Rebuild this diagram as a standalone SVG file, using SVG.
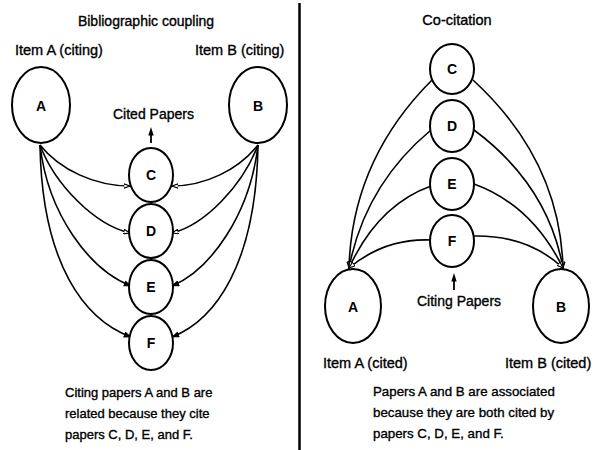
<svg xmlns="http://www.w3.org/2000/svg" width="598" height="450" viewBox="0 0 598 450">
  <defs>
    <style>
      .node { fill: #fff; stroke: #000; stroke-width: 2; }
      .lbl { font-family: "Liberation Sans", Arial, sans-serif; font-size: 14px; fill: #000; stroke: #000; stroke-width: 0.35; }
      .nlbl { font-family: "Liberation Sans", Arial, sans-serif; font-size: 14px; font-weight: bold; fill: #000; text-anchor: middle; }
      .cap { font-family: "Liberation Sans", Arial, sans-serif; font-size: 13px; fill: #000; stroke: #000; stroke-width: 0.35; }
      .edge { fill: none; stroke: #000; stroke-width: 1.6; }
      .open { marker-end: url(#headOpen); }
      .solid { marker-end: url(#headSolid); }
      .ptr { stroke: #000; stroke-width: 1.8; }
    </style>
    <marker id="headOpen" viewBox="0 0 10 8" refX="9" refY="4" markerWidth="7" markerHeight="5.6" markerUnits="userSpaceOnUse" orient="auto">
      <path d="M0,0.8 L9,4 L0,7.2 Z" fill="#fff" stroke="#000" stroke-width="1.6"/>
    </marker>
    <marker id="headSolid" viewBox="0 0 10 8" refX="9" refY="4" markerWidth="8" markerHeight="6.4" markerUnits="userSpaceOnUse" orient="auto">
      <path d="M0,0 L10,4 L0,8 Z" fill="#000"/>
    </marker>
  </defs>

  <rect width="598" height="450" fill="#fff"/>

  <!-- panel divider -->
  <line x1="299.5" y1="3" x2="299.5" y2="450" stroke="#000" stroke-width="2.5"/>

  <!-- ===== Bibliographic coupling ===== -->
  <text class="lbl" x="146" y="26" text-anchor="middle">Bibliographic coupling</text>
  <text class="lbl" x="15" y="55" style="font-size:14.5px">Item A (citing)</text>
  <text class="lbl" x="195" y="55" style="font-size:14.5px">Item B (citing)</text>
  <text class="lbl" x="113" y="119">Cited Papers</text>
  <g id="bc-pointer">
    <line class="ptr" x1="151" y1="143" x2="151" y2="133"/>
    <polygon points="151,127 148.3,135.5 153.7,135.5" fill="#000"/>
  </g>

  <g id="bc-edges">
    <path class="edge open" d="M40,145 C60,170 95,186 130,186"/>
    <path class="edge open" d="M40,145 C55,185 95,225 130,233"/>
    <path class="edge solid" d="M40,145 C48,215 90,270 131,286"/>
    <path class="edge solid" d="M40,145 C42,265 85,320 131,337"/>
    <path class="edge open" d="M258,145 C238,170 205,186 172,186"/>
    <path class="edge open" d="M258,145 C243,185 205,225 172,233"/>
    <path class="edge solid" d="M258,145 C250,215 210,270 172,286"/>
    <path class="edge solid" d="M258,145 C256,265 215,320 172,337"/>
  </g>

  <g id="bc-A"><ellipse class="node" cx="41" cy="105" rx="29" ry="38"/><text class="nlbl" x="41" y="111">A</text></g>
  <g id="bc-B"><ellipse class="node" cx="258" cy="105" rx="29" ry="38"/><text class="nlbl" x="258" y="111">B</text></g>
  <g id="bc-C"><ellipse class="node" cx="151" cy="175" rx="22" ry="27"/><text class="nlbl" x="151" y="180">C</text></g>
  <g id="bc-D"><ellipse class="node" cx="151" cy="231" rx="22" ry="27"/><text class="nlbl" x="151" y="236">D</text></g>
  <g id="bc-E"><ellipse class="node" cx="151" cy="287" rx="22" ry="27"/><text class="nlbl" x="151" y="292">E</text></g>
  <g id="bc-F"><ellipse class="node" cx="151" cy="343" rx="22" ry="27"/><text class="nlbl" x="151" y="348">F</text></g>

  <text class="cap" x="65" y="397">Citing papers A and B are</text>
  <text class="cap" x="65" y="418">related because they cite</text>
  <text class="cap" x="65" y="439">papers C, D, E, and F.</text>

  <!-- ===== Co-citation ===== -->
  <text class="lbl" x="457" y="25" text-anchor="middle" style="font-size:14.5px">Co-citation</text>

  <g id="cc-edges">
    <path class="edge open" d="M432,80 Q352,160 349,268"/>
    <path class="edge open" d="M431,130 Q365,185 349,268"/>
    <path class="edge open" d="M431,186 Q378,205 349,268"/>
    <path class="edge open" d="M431,240 Q385,238 349,268"/>
    <path class="edge open" d="M473,80 Q560,160 563,268"/>
    <path class="edge open" d="M474,130 Q548,185 563,268"/>
    <path class="edge open" d="M474,184 Q532,205 563,268"/>
    <path class="edge open" d="M474,236 Q528,235 563,268"/>
  </g>

  <g id="cc-C"><ellipse class="node" cx="452" cy="69" rx="22" ry="25"/><text class="nlbl" x="452" y="74">C</text></g>
  <g id="cc-D"><ellipse class="node" cx="452" cy="126" rx="22" ry="26"/><text class="nlbl" x="452" y="131">D</text></g>
  <g id="cc-E"><ellipse class="node" cx="452" cy="184" rx="22" ry="26"/><text class="nlbl" x="452" y="189">E</text></g>
  <g id="cc-F"><ellipse class="node" cx="452" cy="241" rx="22" ry="26"/><text class="nlbl" x="452" y="246">F</text></g>
  <g id="cc-A"><ellipse class="node" cx="353" cy="306" rx="28" ry="37"/><text class="nlbl" x="353" y="312">A</text></g>
  <g id="cc-B"><ellipse class="node" cx="561" cy="306" rx="28" ry="37"/><text class="nlbl" x="561" y="312">B</text></g>

  <g id="cc-pointer">
    <line class="ptr" x1="454" y1="290" x2="454" y2="279"/>
    <polygon points="454,273 451.3,281.5 456.7,281.5" fill="#000"/>
  </g>
  <text class="lbl" x="417" y="306">Citing  Papers</text>
  <text class="lbl" x="323" y="368" style="font-size:14.5px">Item A (cited)</text>
  <text class="lbl" x="505" y="368" style="font-size:14.5px">Item B (cited)</text>

  <text class="cap" x="373" y="396" style="font-size:13.3px">Papers A and B are associated</text>
  <text class="cap" x="373" y="417" style="font-size:13.3px">because they are both cited by</text>
  <text class="cap" x="373" y="438" style="font-size:13.3px">papers C, D, E, and F.</text>
</svg>
